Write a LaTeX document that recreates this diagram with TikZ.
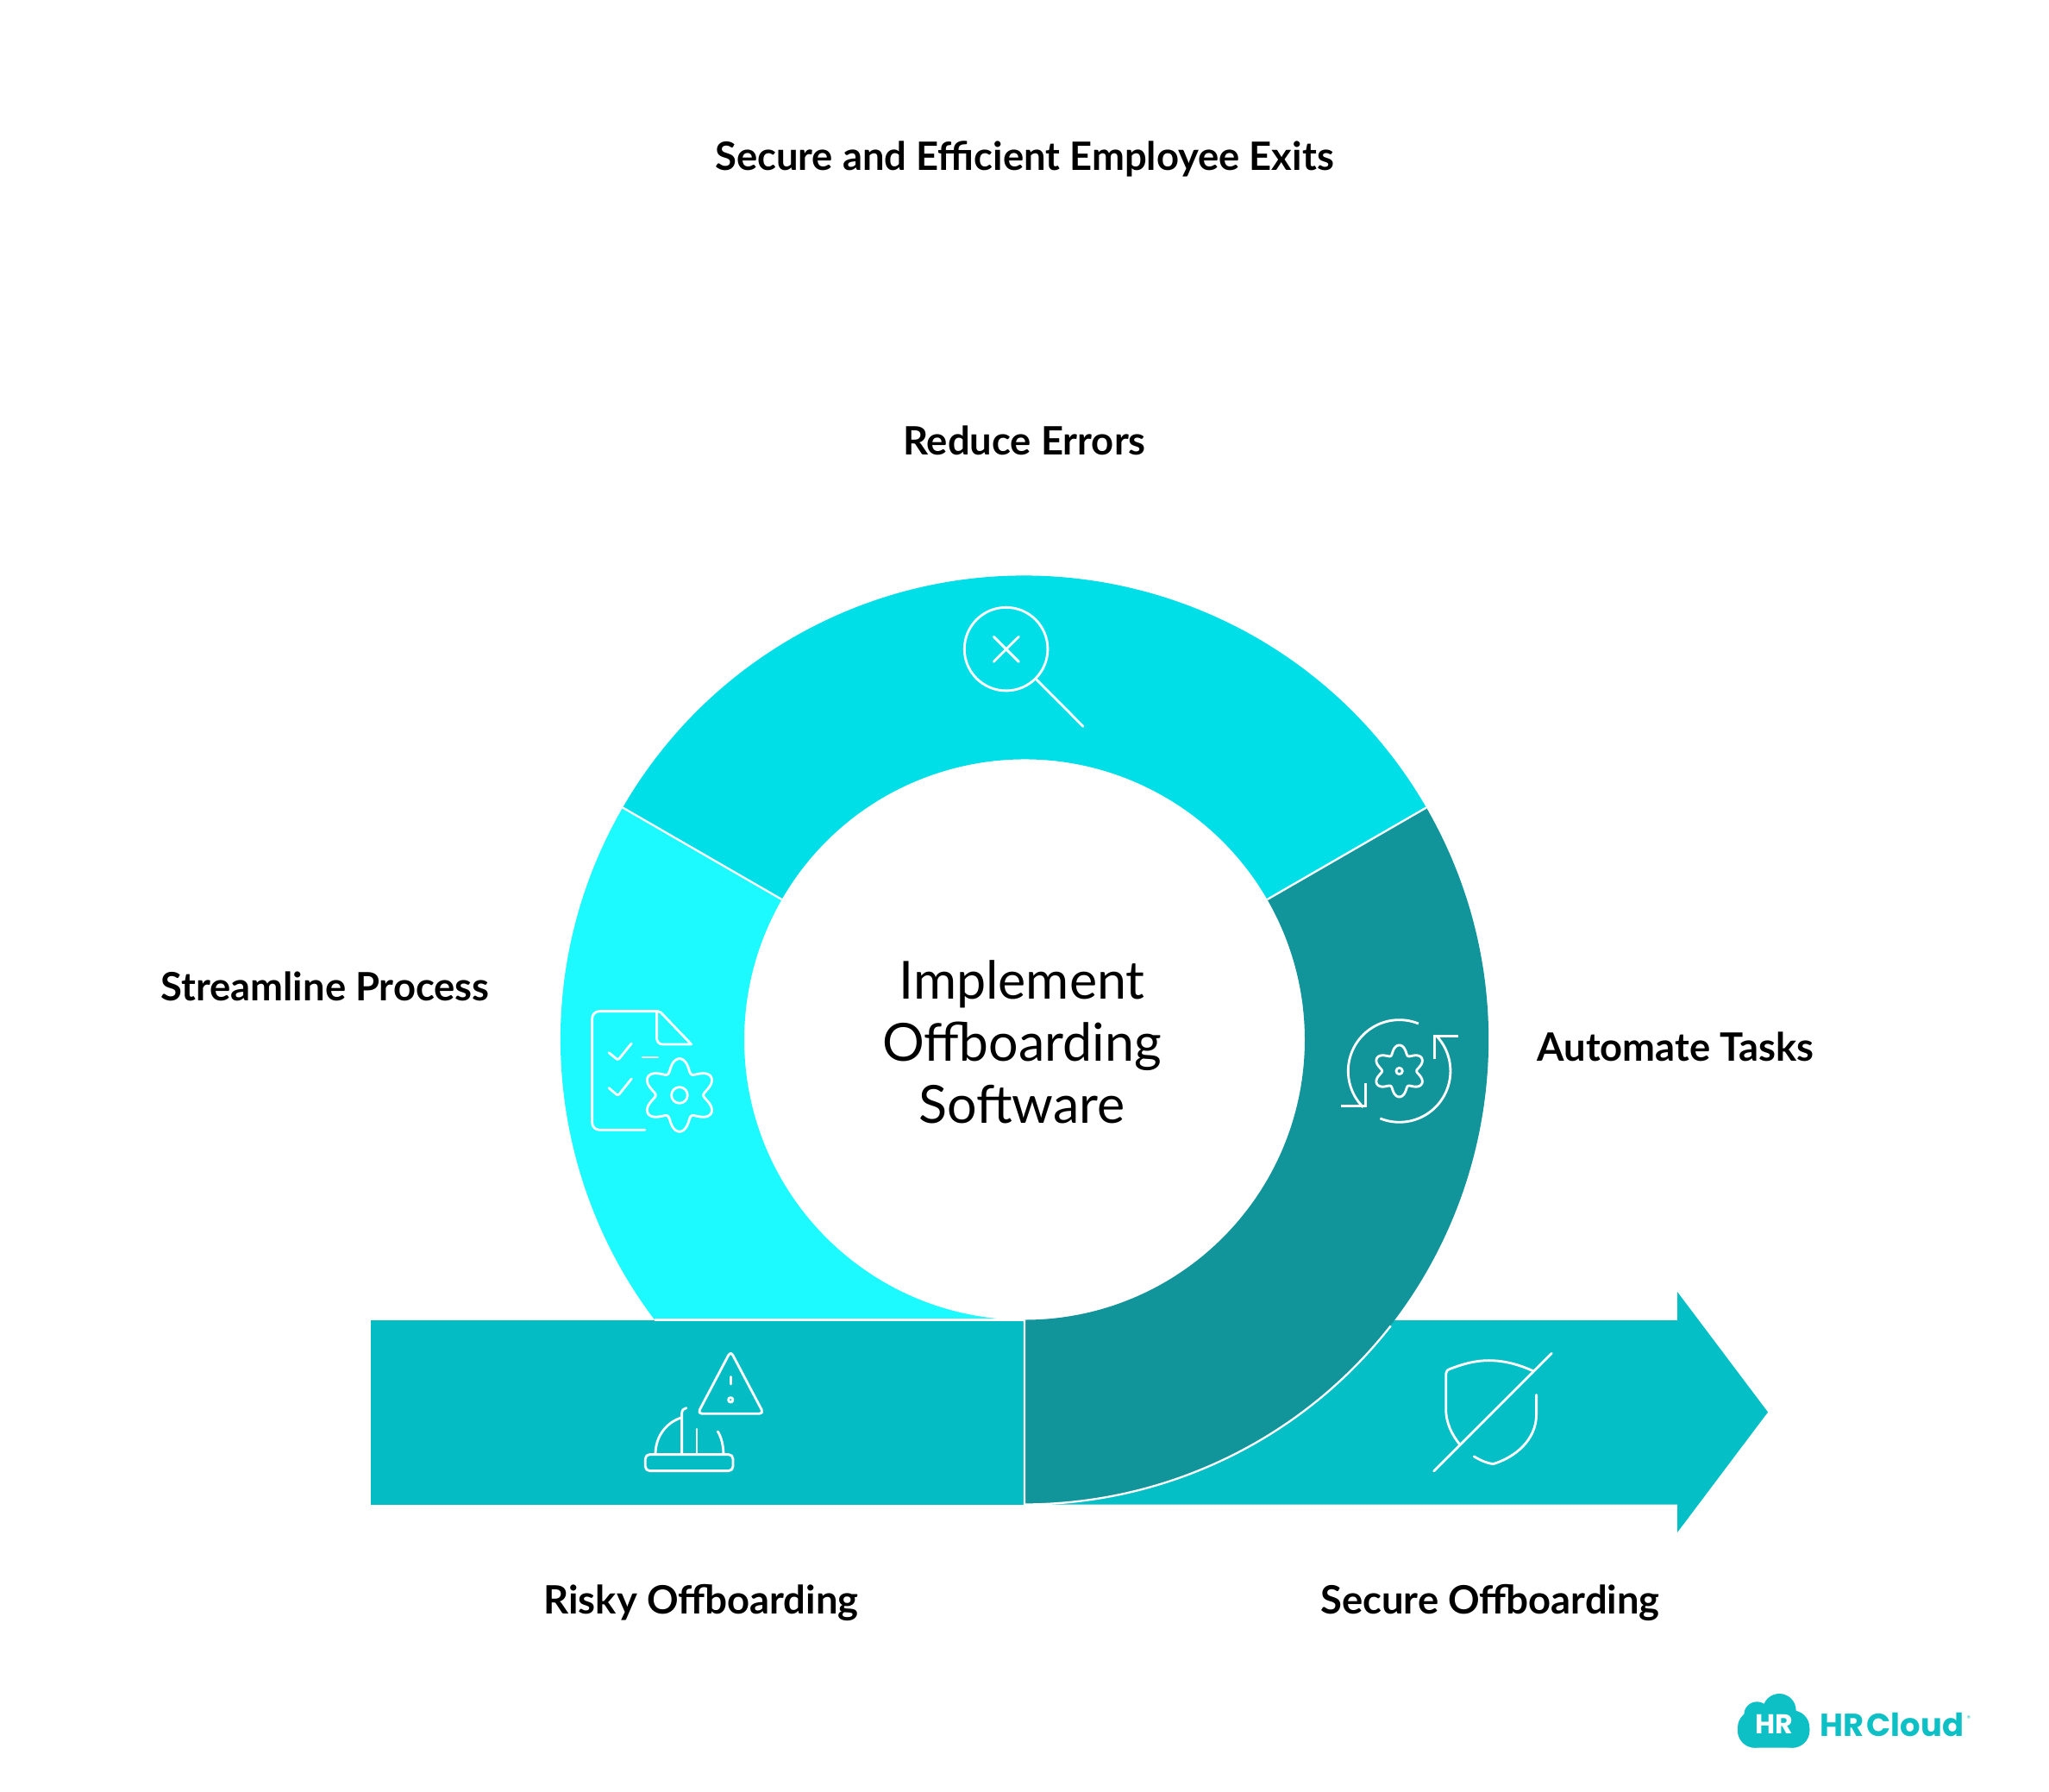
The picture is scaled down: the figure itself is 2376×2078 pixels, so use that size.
\documentclass[tikz,border=0pt]{standalone}
\usepackage{fontspec}
\setmainfont{Lato}
\newfontfamily\logofont[WordSpace=0.45]{Poppins}
\definecolor{topc}{HTML}{00DFE8}
\definecolor{leftc}{HTML}{1CFAFF}
\definecolor{rightc}{HTML}{12959A}
\definecolor{barc}{HTML}{04BCC4}
\definecolor{arrowc}{HTML}{04BFC6}
\definecolor{logoc}{HTML}{0DC0C6}
\tikzset{
  label/.style={font=\fontsize{38.7}{45}\bfseries\selectfont,text=black,anchor=base,inner sep=0pt},
  ico/.style={draw=white,line width=0.085cm,line cap=round,line join=round},
  sep/.style={draw=white,line width=0.07cm},
}
\begin{document}
\begin{tikzpicture}[x=0.03cm,y=-0.03cm]
\path[use as bounding box,fill=white] (0,0) rectangle (2376,2078);
\coordinate (c) at (1188,1205.5);
% arrow
\fill[arrowc] (1188,1531) -- (1945,1531) -- (1945,1498) -- (2050,1637.5) -- (1945,1777) -- (1945,1744.5) -- (1188,1744.5) -- cycle;
\begin{scope}[shift={(c)},x=0.03cm,y=0.03cm]
\fill[leftc] (150:538) arc[start angle=150,end angle=270,radius=538] -- (270:325) arc[start angle=270,end angle=150,radius=325] -- cycle;
\end{scope}
% bar
\fill[barc] (430,1531) rectangle (1188,1744.5);
\draw[sep] (759,1530.5) -- (1188,1530.5);
\begin{scope}[shift={(c)},x=0.03cm,y=0.03cm]
\fill[topc] (30:538) arc[start angle=30,end angle=150,radius=538] -- (150:325) arc[start angle=150,end angle=30,radius=325] -- cycle;
\fill[rightc] (30:538) arc[start angle=30,end angle=-90,radius=538.5] -- (-90:325) arc[start angle=-90,end angle=30,radius=325] -- cycle;
\draw[sep] (150:538) -- (150:325);
\draw[sep] (-90:325) -- (-90:539) arc[start angle=-90,end angle=-38,radius=539];
\draw[sep] (30:325) -- (30:538);
\end{scope}
% magnifier
\begin{scope}[shift={(1090,690)},x=0.01cm,y=-0.01cm]
\draw[ico] (230,188) circle[radius=145];
\draw[ico] (187,145) -- (274,232) (274,145) -- (187,232) (335,293) -- (498,457);
\end{scope}
% document and gear
\begin{scope}[shift={(660,1130)},x=0.01cm,y=-0.01cm]
\draw[ico,rounded corners=0.25cm] (305,128) -- (80,128) -- (80,541) -- (264,541);
\draw[ico,rounded corners=0.2cm] (305,128) -- (305,243) -- (425,243);
\draw[ico,rounded corners=0.06cm] (425,243) -- (315,128) -- (305,128);
\draw[ico,rounded corners=0.05cm] (138,272) -- (170,298) -- (217,240);
\draw[ico,rounded corners=0.05cm] (138,395) -- (170,422) -- (217,363);
\draw[ico] (255,288) -- (308,288);
\draw[ico,smooth] plot[domain=0:360,samples=121] ({384+(106+22*cos(6*\x)-1*cos(12*\x))*cos(\x+30)},{420+(106+22*cos(6*\x)-1*cos(12*\x))*sin(\x+30)});
\draw[ico] (384,420) circle[radius=28];
\end{scope}
% automate icon
\begin{scope}[shift={(1530,1150)},x=0.01cm,y=-0.01cm]
\draw[ico,line cap=butt] plot[smooth,domain=-68:-225,samples=60] ({278+178*cos(\x)},{276+178*sin(\x)});
\draw[ico,line cap=butt] plot[smooth,domain=112:-44,samples=60] ({278+178*cos(\x)},{276+178*sin(\x)});
\draw[ico,line cap=butt,line join=miter] (160,317) -- (160,398) -- (76,398);
\draw[ico,line cap=butt,line join=miter] (400,235) -- (400,155) -- (482,155);
\draw[ico,smooth] plot[domain=0:360,samples=121] ({278+(76+15*cos(6*\x)-1*cos(12*\x))*cos(\x+30)},{276+(76+15*cos(6*\x)-1*cos(12*\x))*sin(\x+30)});
\draw[ico] (278,276) circle[radius=11];
\end{scope}
% helmet and warning
\begin{scope}[shift={(720,1540)},x=0.01cm,y=-0.01cm]
\draw[ico,rounded corners=0.15cm] (382,80) -- (497,298) -- (267,298) -- cycle;
\draw[ico] (382,170) -- (382,195);
\draw[ico] (382,250) circle[radius=8];
\draw[ico,rounded corners=0.15cm] (85,440) rectangle (390,497);
\draw[ico] (120,440) .. controls (120,380) and (155,330) .. (210,312);
\draw[ico] (212,440) -- (212,297) .. controls (212,285) and (220,279) .. (228,278);
\draw[ico] (264,440) -- (264,352);
\draw[ico] (337,360) .. controls (350,380) and (357,410) .. (357,440);
\end{scope}
% shield
\begin{scope}[shift={(1640,1540)},x=0.01cm,y=-0.01cm]
\draw[ico] (415,150) .. controls (360,125) and (310,113) .. (260,113) .. controls (210,113) and (170,125) .. (125,142) .. controls (115,146) and (110,150) .. (110,160) -- (110,280) .. controls (110,330) and (130,370) .. (158,405);
\draw[ico] (425,232) -- (425,300) .. controls (425,390) and (350,450) .. (275,473) .. controls (250,470) and (230,460) .. (208,447);
\draw[ico] (68,498) -- (478,88);
\end{scope}
% logo
\begin{scope}[shift={(2000,1950)},x=0.01cm,y=-0.01cm]
\fill[logoc] (190,100) circle[radius=58] (112,115) circle[radius=45];
\fill[logoc,rounded corners=0.6cm] (45,100) rectangle (295,230);
\fill[logoc] (105,170) circle[radius=60] (235,170) circle[radius=60];
\end{scope}
\node[inner sep=0pt,text=white,anchor=base] (logoa) at (2057.5,2010) {\logofont\fontsize{27}{30}\bfseries\selectfont HR};
\node[inner sep=0pt,text=logoc,anchor=base west] (logob) at (2110,2013) {\logofont\fontsize{31.5}{34}\selectfont\bfseries HR Cloud};
\node[inner sep=0pt,text=logoc,anchor=base] (logor) at (2283,1995) {\logofont\fontsize{7}{9}\selectfont ®};
% labels
\node[label] (title) at (1188,197) {Secure and Efficient Employee Exits};
\node[label] (errors) at (1188,527) {Reduce Errors};
\node[label] (stream) at (377,1160) {Streamline Process};
\node[label] (auto) at (1943,1230) {Automate Tasks};
\node[label] (risky) at (813,1871) {Risky Offboarding};
\node[label] (secure) at (1728,1871) {Secure Offboarding};
\node[inner sep=0pt,anchor=center,align=center,font=\fontsize{52}{61.5}\selectfont,text=black] (center) at (1185,1208) {Implement\\Offboarding\\Software};
\end{tikzpicture}
\end{document}
